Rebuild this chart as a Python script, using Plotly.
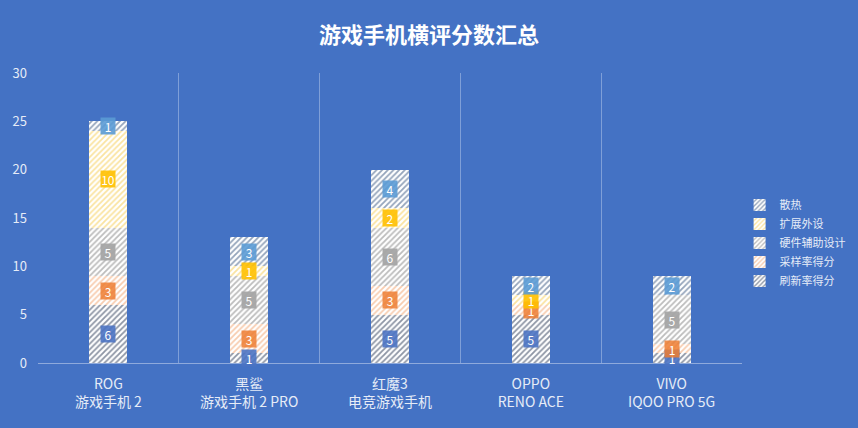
import plotly.graph_objects as go

# dados
phones = ['ROG<br>游戏手机 2', '黑鲨<br>游戏手机 2 PRO', '红魔3<br>电竞游戏手机',
          'OPPO<br>RENO ACE', 'VIVO<br>IQOO PRO 5G']
refresh = [6, 1, 5, 5, 1]      # 刷新率得分
sampling = [3, 3, 3, 1, 1]     # 采样率得分
hardware = [5, 5, 6, 0, 5]     # 硬件辅助设计
expansion = [10, 1, 2, 1, 0]   # 扩展外设
cooling = [1, 3, 4, 2, 2]      # 散热

series = [
    ('刷新率得分', refresh, '#1c2b4a', 'rgba(75,115,195,0.9)'),
    ('采样率得分', sampling, '#f09a60', 'rgba(237,125,49,0.85)'),
    ('硬件辅助设计', hardware, '#7a7a7a', 'rgba(165,165,165,0.95)'),
    ('扩展外设', expansion, '#f5c842', 'rgba(255,192,0,0.9)'),
    ('散热', cooling, '#2a4a78', 'rgba(91,155,213,0.9)'),
]

fig = go.Figure()
base = [0] * len(phones)
annots = []
for name, vals, line_col, lab_col in series:
    fig.add_trace(go.Bar(
        x=phones, y=vals, name=name, width=0.27, legendgroup=name,
        marker=dict(color='white', line=dict(width=0),
                    pattern=dict(shape='/', fgcolor=line_col, bgcolor='white',
                                 size=4, solidity=0.45)),
    ))
    # rótulos com caixa colorida no meio de cada segmento
    for i, v in enumerate(vals):
        if v > 0:
            annots.append(dict(x=phones[i], y=base[i] + v / 2, text=str(v),
                               showarrow=False, bgcolor=lab_col,
                               font=dict(color='white', size=12),
                               width=14, height=16, borderpad=0))
        base[i] += v

fig.update_layout(
    width=858, height=428,
    barmode='stack',
    paper_bgcolor='#4472c4', plot_bgcolor='#4472c4',
    font=dict(family='Noto Sans CJK SC, Microsoft YaHei, sans-serif', color='#e6ecf7'),
    title=dict(text='<b>游戏手机横评分数汇总</b>', x=0.5, xanchor='center',
               y=0.918, yanchor='middle', font=dict(size=22, color='white')),
    margin=dict(l=38, r=116, t=73, b=65, autoexpand=False),
    xaxis=dict(showgrid=True, tickson='boundaries', gridcolor='#7f9fd8', gridwidth=1,
               showline=True, linecolor='#8faadc', ticks='', tickfont=dict(size=14),
               ticklabelstandoff=8),
    yaxis=dict(range=[0, 30], dtick=5, showgrid=False, zeroline=False,
               tickfont=dict(size=13), ticks='', ticklabelstandoff=10),
    legend=dict(xref='container', yref='container', x=0.862, xanchor='left',
                y=0.432, yanchor='middle', traceorder='reversed',
                font=dict(size=11), itemwidth=30, tracegroupgap=6),
    annotations=annots,
)

# tirar a margem branca da página
fig.write_html('out.html', config={'displayModeBar': False},
               post_script="document.body.style.margin='0';")
